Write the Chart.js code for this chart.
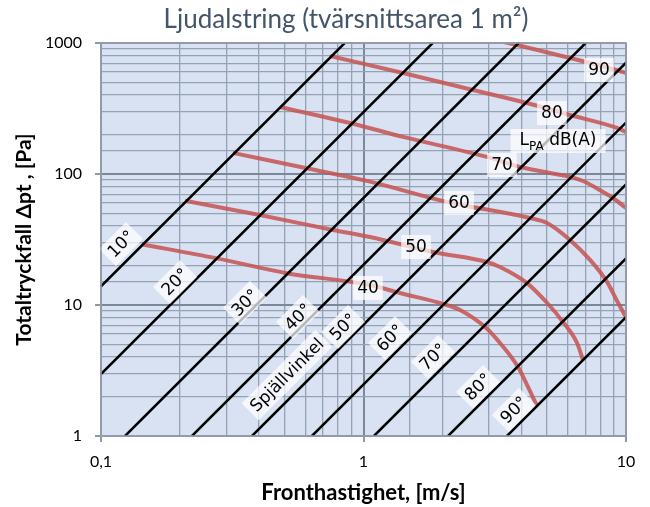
<!DOCTYPE html>
<html>
<head>
<meta charset="utf-8">
<script src="https://cdn.jsdelivr.net/npm/chart.js@4.4.1/dist/chart.umd.min.js"></script>
<style>
  html, body { margin: 0; padding: 0; background: #ffffff; }
  #wrap { width: 650px; height: 507px; }
</style>
</head>
<body>
<div id="wrap"><canvas id="ljudChart"></canvas></div>
<script>
'use strict';

// Spjällvinkel lines, endpoints [v m/s, Δp Pa]
const angleNames = ['10°', '20°', '30°', '40°', '50°', '60°', '70°', '80°', '90°'];
const angle10 = [[0.1, 13.9], [0.848, 1000]];
const angle20 = [[0.1, 2.97], [1.835, 1000]];
const angle30 = [[0.1235, 1], [3.90, 1000]];
const angle40 = [[0.222, 1], [7.02, 1000]];
const angle50 = [[0.376, 1], [10, 707]];
const angle60 = [[0.636, 1], [10, 247]];
const angle70 = [[1.096, 1], [10, 83.2]];
const angle80 = [[2.10, 1], [10, 22.7]];
const angle90 = [[3.52, 1], [10, 8.07]];

// LPA dB(A) curves [v, Δp]
const levelNames = ['40', '50', '60', '70', '80', '90'];
const lpa40 = [[0.143, 29.1], [0.276, 22.7], [0.510, 17.5], [1.059, 14.2], [1.377, 12.35],
  [2.009, 10.2], [2.332, 9.16], [2.904, 6.79], [3.311, 5.13], [3.879, 3.36], [4.233, 2.37], [4.581, 1.69]];
const lpa50 = [[0.209, 62.5], [0.403, 48.6], [0.765, 37.4], [1.059, 33.0], [1.840, 25.4],
  [2.955, 21.3], [3.311, 19.5], [4.196, 14.7], [5.0, 10.4], [5.754, 7.42], [6.508, 5.13], [6.859, 3.80]];
const lpa60 = [[0.318, 145], [0.608, 110.5], [1.059, 87.4], [2.080, 61.1], [4.308, 46.1],
  [5.0, 42.3], [6.117, 31.4], [7.295, 22.1], [8.468, 15.0], [9.322, 10.4], [10, 8.07]];
const lpa70 = [[0.481, 325], [0.888, 245], [1.414, 192], [2.955, 135], [3.947, 113],
  [6.117, 94.9], [6.859, 88.4], [8.176, 72.9], [8.923, 65.6], [10, 55.0]];
const lpa80 = [[0.745, 796], [1.414, 590], [2.613, 438], [4.196, 348], [6.117, 282],
  [9.24, 224.5], [10, 209]];
const lpa90 = [[1.103, 1715], [3.845, 965], [6.117, 768], [9.741, 600], [10, 590]];

// where the text boxes sit, [v, Δp]
const levelLabelAt = [[1.040, 13.5], [1.585, 27.7], [2.311, 60.0], [3.37, 117], [5.22, 292], [7.89, 622]];
const angleLabelAt = [[0.1192, 29.2], [0.1914, 15.0], [0.3537, 10.4], [0.5628, 8.09], [0.8355, 6.79],
  [1.262, 5.60], [1.84, 4.01], [2.73, 2.37], [3.74, 1.58]];
const unitLabelAt = [5.51, 178.6];
const angleTitleAt = [0.511, 2.92];

const xTickLabels = { '-1': '0,1', '0': '1', '1': '10' };
const yTickLabels = { '0': '1', '1': '10', '2': '100', '3': '1000' };

const toXY = (pts) => pts.map(([x, y]) => ({ x: x, y: y }));
const decade = (v) => {
  const l = Math.log10(v);
  return Math.abs(l - Math.round(l)) < 1e-6 ? String(Math.round(l)) : null;
};

const angleSets = [angle10, angle20, angle30, angle40, angle50, angle60, angle70, angle80, angle90];
const levelSets = [lpa40, lpa50, lpa60, lpa70, lpa80, lpa90];

const datasets = [];
angleSets.forEach((pts, i) => {
  datasets.push({
    label: angleNames[i],
    data: toXY(pts),
    borderColor: '#000000',
    borderWidth: 2.5,
    pointRadius: 0,
    fill: false,
    order: 1
  });
});
levelSets.forEach((pts, i) => {
  datasets.push({
    label: levelNames[i] + ' dB(A)',
    data: toXY(pts),
    borderColor: 'rgba(198, 82, 80, 0.85)',
    borderWidth: 4,
    pointRadius: 0,
    fill: false,
    cubicInterpolationMode: 'monotone',
    order: 2
  });
});

const plotBackground = {
  id: 'plotBackground',
  beforeDraw(chart) {
    const { ctx, chartArea: a } = chart;
    ctx.save();
    ctx.fillStyle = '#d9e2f3';
    ctx.fillRect(a.left, a.top, a.right - a.left, a.bottom - a.top);
    ctx.restore();
  },
  afterDraw(chart) {
    const { ctx, chartArea: a } = chart;
    ctx.save();
    ctx.strokeStyle = '#98a3b0';
    ctx.lineWidth = 1.5;
    ctx.strokeRect(a.left, a.top, a.right - a.left, a.bottom - a.top);
    // chart title
    ctx.fillStyle = '#44546a';
    ctx.font = '26px Lato';
    ctx.textAlign = 'center';
    ctx.textBaseline = 'middle';
    ctx.fillText('Ljudalstring (tvärsnittsarea 1 m²)', 346, 20);
    ctx.restore();
  }
};

function boxedText(ctx, text, x, y, angle, font) {
  ctx.save();
  ctx.translate(x, y);
  ctx.rotate(angle);
  ctx.font = font;
  const w = ctx.measureText(text).width;
  ctx.fillStyle = 'rgba(255, 255, 255, 0.72)';
  ctx.fillRect(-w / 2 - 4, -12, w + 8, 24);
  ctx.fillStyle = '#000000';
  ctx.textAlign = 'center';
  ctx.textBaseline = 'middle';
  ctx.fillText(text, 0, 1);
  ctx.restore();
}

const plotLabels = {
  id: 'plotLabels',
  afterDatasetsDraw(chart) {
    const { ctx, scales: { x, y } } = chart;
    const f = '17px "DejaVu Sans"';
    levelLabelAt.forEach(([v, p], i) => {
      boxedText(ctx, levelNames[i], x.getPixelForValue(v), y.getPixelForValue(p), 0, f);
    });
    angleLabelAt.forEach(([v, p], i) => {
      boxedText(ctx, angleNames[i], x.getPixelForValue(v), y.getPixelForValue(p), -Math.PI / 4, f);
    });
    boxedText(ctx, 'Spjällvinkel', x.getPixelForValue(angleTitleAt[0]), y.getPixelForValue(angleTitleAt[1]), -Math.PI / 4, f);

    // L with subscript PA, then dB(A)
    const cx = x.getPixelForValue(unitLabelAt[0]);
    const cy = y.getPixelForValue(unitLabelAt[1]);
    ctx.save();
    ctx.font = f;
    const wL = ctx.measureText('L').width;
    const wRest = ctx.measureText(' dB(A)').width;
    ctx.font = '12px "DejaVu Sans"';
    const wSub = ctx.measureText('PA').width;
    const total = wL + wSub + wRest;
    ctx.fillStyle = 'rgba(255, 255, 255, 0.72)';
    ctx.fillRect(cx - total / 2 - 9, cy - 12, total + 18, 24);
    ctx.fillStyle = '#000000';
    ctx.textBaseline = 'middle';
    ctx.textAlign = 'left';
    let px = cx - total / 2;
    ctx.font = f;
    ctx.fillText('L', px, cy);
    px += wL;
    ctx.font = '12px "DejaVu Sans"';
    ctx.fillText('PA', px, cy + 6);
    px += wSub;
    ctx.font = f;
    ctx.fillText(' dB(A)', px, cy);
    ctx.restore();
  }
};

const gridColor = (c) => (c.tick && decade(c.tick.value) !== null ? '#7a889a' : '#95a2b3');
const gridWidth = (c) => (c.tick && decade(c.tick.value) !== null ? 2 : 1.3);
const tickColor = (c) => (c.tick && decade(c.tick.value) !== null ? '#8c99a8' : 'rgba(0,0,0,0)');

new Chart(document.getElementById('ljudChart'), {
  type: 'line',
  data: { datasets: datasets },
  options: {
    responsive: true,
    maintainAspectRatio: false,
    animation: false,
    layout: { padding: { top: 43, right: 24, left: 0, bottom: 0 } },
    plugins: {
      legend: { display: false },
      tooltip: { enabled: false },
      title: { display: false }
    },
    scales: {
      x: {
        type: 'logarithmic',
        min: 0.1,
        max: 10,
        afterFit(scale) { scale.height = 71; },
        grid: { color: gridColor, lineWidth: gridWidth, tickColor: tickColor, tickLength: 6 },
        border: { display: false },
        ticks: {
          autoSkip: false,
          maxRotation: 0,
          padding: 10,
          color: '#000000',
          font: { family: 'Lato', size: 16 },
          callback: (v) => {
            const d = decade(v);
            return d !== null && xTickLabels[d] ? xTickLabels[d] : '';
          }
        },
        title: {
          display: true,
          text: 'Fronthastighet, [m/s]',
          color: '#000000',
          font: { family: 'Lato', size: 22, weight: 'bold' },
          padding: { top: 0, bottom: 1 }
        }
      },
      y: {
        type: 'logarithmic',
        min: 1,
        max: 1000,
        afterFit(scale) { scale.width = 101; },
        grid: { color: gridColor, lineWidth: gridWidth, tickColor: tickColor, tickLength: 6 },
        border: { display: false },
        ticks: {
          autoSkip: false,
          padding: 13,
          color: '#000000',
          font: { family: 'Lato', size: 16 },
          callback: (v) => {
            const d = decade(v);
            return d !== null && yTickLabels[d] ? yTickLabels[d] : '';
          }
        },
        title: {
          display: true,
          text: 'Totaltryckfall Δpt , [Pa]',
          color: '#000000',
          font: { family: 'Lato', size: 21, weight: 'bold' },
          padding: { top: 12, bottom: 0 }
        }
      }
    }
  },
  plugins: [plotBackground, plotLabels]
});
</script>
</body>
</html>
